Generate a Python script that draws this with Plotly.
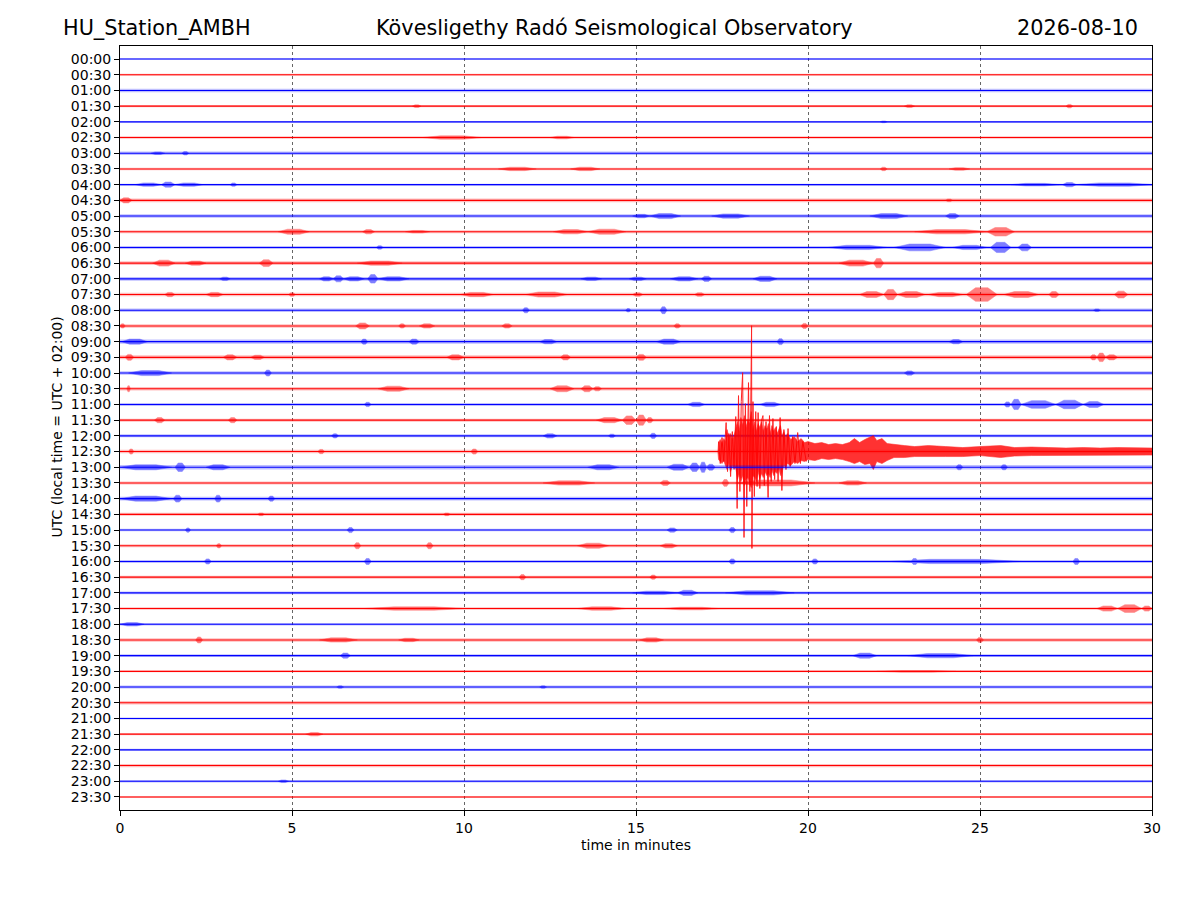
import plotly.graph_objects as go

# half-hour rows of the helicorder, top to bottom
ROW_LABELS = [
    "00:00", "00:30", "01:00", "01:30", "02:00", "02:30", "03:00", "03:30",
    "04:00", "04:30", "05:00", "05:30", "06:00", "06:30", "07:00", "07:30",
    "08:00", "08:30", "09:00", "09:30", "10:00", "10:30", "11:00", "11:30",
    "12:00", "12:30", "13:00", "13:30", "14:00", "14:30", "15:00", "15:30",
    "16:00", "16:30", "17:00", "17:30", "18:00", "18:30", "19:00", "19:30",
    "20:00", "20:30", "21:00", "21:30", "22:00", "22:30", "23:00", "23:30",
]

# background noise half-amplitude of each row
ROW_NOISE = [
    0.8, 1.0, 1.8, 1.2, 0.8, 1.2, 1.8, 1.3, 1.0, 1.8, 1.8, 1.5,
    1.5, 1.8, 1.8, 1.8, 1.8, 1.8, 2.2, 2.0, 1.8, 1.8, 1.5, 1.5,
    1.5, 1.8, 2.2, 1.5, 1.8, 1.5, 1.3, 1.5, 1.5, 1.5, 1.3, 1.3,
    1.3, 1.8, 1.3, 0.8, 1.5, 1.8, 1.0, 1.0, 1.0, 1.6, 1.2, 1.0,
]

# wave groups: (row, start minute, end minute, half-amplitude)
BURSTS = [
    (3, 8.5, 8.75, 1.5), (3, 22.8, 23.1, 1.5), (3, 27.5, 27.7, 2),
    (4, 22.1, 22.3, 1),
    (5, 8.8, 10.5, 2), (5, 12.5, 13.2, 1.5),
    (6, 0.9, 1.3, 1.5), (6, 1.8, 2.0, 2),
    (7, 11.0, 12.1, 2), (7, 13.1, 13.95, 2), (7, 22.1, 22.3, 2), (7, 24.1, 24.7, 1.5),
    (8, 0.45, 1.2, 2), (8, 1.2, 1.6, 3), (8, 1.6, 2.4, 2), (8, 3.2, 3.4, 2),
    (8, 25.9, 27.3, 1.5), (8, 27.4, 27.8, 2.5), (8, 27.8, 30.0, 2),
    (9, 0.0, 0.35, 3), (9, 24.0, 24.2, 1.5),
    (10, 14.9, 15.4, 2), (10, 15.4, 16.3, 3), (10, 17.2, 18.3, 2.5),
    (10, 21.8, 22.9, 3), (10, 24.0, 24.4, 3),
    (11, 4.6, 5.5, 3), (11, 7.05, 7.4, 2.5), (11, 8.3, 9.0, 1.5), (11, 12.6, 13.6, 2.5),
    (11, 13.6, 14.7, 3), (11, 23.1, 25.2, 2.5), (11, 25.2, 26.0, 5),
    (12, 7.45, 7.65, 2), (12, 20.6, 22.3, 2.5), (12, 22.5, 24.0, 4), (12, 24.2, 25.2, 2.5),
    (12, 25.3, 25.9, 6), (12, 26.1, 26.5, 4),
    (13, 0.95, 1.6, 3.5), (13, 1.9, 2.5, 2.5), (13, 4.05, 4.45, 4), (13, 6.9, 8.2, 2.5),
    (13, 20.9, 21.9, 3.5), (13, 21.9, 22.2, 5.5),
    (14, 2.9, 3.2, 2), (14, 5.8, 6.2, 2.5), (14, 6.2, 6.5, 3.5), (14, 6.5, 7.1, 2.5),
    (14, 7.2, 7.5, 5), (14, 7.5, 8.4, 2.5), (14, 13.4, 14.0, 2), (14, 14.8, 15.3, 2),
    (14, 16.0, 16.8, 2.5), (14, 16.9, 17.2, 3), (14, 18.4, 19.1, 3),
    (15, 1.3, 1.6, 2.5), (15, 2.5, 3.0, 2.5), (15, 4.9, 5.1, 2), (15, 9.9, 10.85, 2.5),
    (15, 11.8, 13.0, 3), (15, 14.9, 15.2, 2), (15, 16.7, 17.0, 2), (15, 21.5, 22.2, 3.5),
    (15, 22.2, 22.6, 6), (15, 22.6, 23.4, 3.5), (15, 23.5, 24.5, 2.5), (15, 24.6, 25.5, 8),
    (15, 25.7, 26.7, 3.5), (15, 27.0, 27.3, 3.5), (15, 28.9, 29.3, 4),
    (16, 11.7, 11.9, 3), (16, 14.7, 14.85, 2), (16, 15.7, 15.9, 4), (16, 28.3, 28.5, 1.5),
    (17, 0.0, 0.15, 2.5), (17, 6.85, 7.25, 3.5), (17, 8.1, 8.3, 2.5), (17, 8.7, 9.15, 2.5),
    (17, 11.1, 11.4, 2.5), (17, 16.1, 16.3, 2.5), (17, 19.8, 20.0, 3),
    (18, 0.05, 0.8, 3), (18, 7.0, 7.2, 3), (18, 8.4, 8.7, 3), (18, 12.2, 12.7, 2.5),
    (18, 15.6, 16.3, 3), (18, 19.1, 19.3, 3.5), (18, 24.1, 24.5, 2.5),
    (19, 0.15, 0.4, 3.5), (19, 3.0, 3.4, 3), (19, 3.8, 4.2, 2.5), (19, 9.5, 10.0, 3),
    (19, 12.8, 13.1, 3), (19, 15.0, 15.3, 3.5), (19, 28.2, 28.4, 3), (19, 28.4, 28.65, 5),
    (19, 28.65, 29.0, 3),
    (20, 0.25, 1.5, 3), (20, 4.2, 4.4, 3.5), (20, 22.8, 23.1, 2.5),
    (21, 0.2, 0.3, 3.5), (21, 7.5, 8.4, 3), (21, 12.5, 13.2, 3.5), (21, 13.4, 13.75, 3.5),
    (21, 13.75, 14.0, 2.5),
    (22, 7.1, 7.3, 2.5), (22, 16.5, 17.0, 2.5), (22, 18.6, 19.2, 2.5), (22, 25.7, 25.9, 3),
    (22, 25.9, 26.2, 6), (22, 26.2, 27.2, 4.5), (22, 27.2, 28.0, 5), (22, 28.0, 28.6, 3.5),
    (23, 1.0, 1.3, 3), (23, 3.15, 3.4, 3), (23, 13.85, 14.6, 3), (23, 14.6, 15.0, 5),
    (23, 15.0, 15.3, 6), (23, 15.3, 15.5, 3),
    (24, 6.15, 6.35, 2.5), (24, 12.3, 12.7, 2.5), (24, 14.2, 14.4, 2), (24, 15.4, 15.6, 3),
    (25, 0.25, 0.4, 3), (25, 5.75, 5.95, 2.5), (25, 10.2, 10.4, 3),
    (26, 0.0, 1.5, 3), (26, 1.6, 1.9, 5), (26, 2.5, 3.2, 3), (26, 13.6, 14.5, 3),
    (26, 15.9, 16.55, 3.5), (26, 16.55, 16.85, 5), (26, 16.85, 17.05, 6), (26, 17.05, 17.3, 3.5),
    (26, 24.3, 24.5, 3), (26, 25.6, 25.8, 3),
    (27, 12.3, 13.8, 2.5), (27, 15.7, 16.0, 3), (27, 17.5, 17.7, 4), (27, 17.9, 20.2, 3.5),
    (27, 20.9, 21.7, 2.5),
    (28, 0.0, 1.5, 3), (28, 1.55, 1.8, 4), (28, 2.75, 2.95, 4), (28, 4.3, 4.5, 3),
    (29, 4.0, 4.2, 1.5), (29, 9.4, 9.6, 1.5),
    (30, 1.9, 2.05, 2.5), (30, 6.6, 6.8, 3), (30, 15.9, 16.2, 2.5), (30, 17.7, 17.9, 3),
    (31, 2.8, 2.95, 2.5), (31, 6.8, 7.0, 3.5), (31, 8.9, 9.1, 3.5), (31, 13.3, 14.2, 3),
    (31, 15.7, 16.2, 2.5),
    (32, 2.45, 2.65, 3), (32, 7.1, 7.3, 3.5), (32, 17.7, 17.9, 3), (32, 20.1, 20.3, 3),
    (32, 22.4, 26.2, 2.5), (32, 23.0, 23.2, 3.5), (32, 27.7, 27.9, 3.5),
    (33, 11.6, 11.8, 3), (33, 15.4, 15.6, 2.5),
    (34, 14.9, 16.2, 2), (34, 16.2, 16.8, 3), (34, 17.6, 19.6, 2.5),
    (35, 7.1, 10.0, 2), (35, 13.3, 14.7, 2), (35, 15.8, 17.4, 1.5), (35, 28.4, 29.0, 3),
    (35, 29.0, 29.7, 4.5), (35, 29.7, 30.0, 3),
    (36, 0.0, 0.7, 2),
    (37, 2.2, 2.4, 3.5), (37, 5.8, 6.9, 2.5), (37, 8.1, 8.7, 2), (37, 15.1, 15.8, 2.5),
    (37, 24.9, 25.1, 3),
    (38, 6.4, 6.7, 3), (38, 21.3, 22.0, 3), (38, 22.9, 24.8, 2.5),
    (39, 22.0, 24.3, 1),
    (40, 6.3, 6.5, 1.5), (40, 12.2, 12.4, 1.5),
    (43, 5.4, 5.9, 2),
    (46, 4.6, 4.9, 1.5),
]

# the earthquake in the 12:30 row: envelope of the wave train
QUAKE_ROW = 25
QUAKE_ENV_T = [
    17.38, 17.40, 17.45, 17.50, 17.55, 17.60, 17.65, 17.70, 17.75, 17.80,
    17.85, 17.90, 17.95, 18.00, 18.05, 18.10, 18.15, 18.20, 18.25, 18.30,
    18.35, 18.40, 18.45, 18.50, 18.55, 18.60, 18.65, 18.70, 18.75, 18.80,
    18.85, 18.90, 18.95, 19.00, 19.05, 19.10, 19.15, 19.20, 19.25, 19.30,
    19.35, 19.40, 19.50, 19.60, 19.70, 19.80, 19.90, 20.00, 20.20, 20.40,
    20.60, 20.80, 21.00, 21.20, 21.35, 21.50, 21.65, 21.80, 21.90, 22.00,
    22.15, 22.30, 22.50, 22.80, 23.10, 23.50, 24.00, 24.50, 25.00, 25.60,
    26.00, 26.50, 27.00, 27.50, 28.00, 28.50, 29.00, 29.50, 30.00,
]
QUAKE_ENV_UP = [
    0, 9, 12, 8, 13, 10, 22, 14, 18, 12,
    16, 22, 30, 20, 34, 26, 36, 24, 32, 28,
    40, 22, 30, 20, 28, 24, 30, 20, 26, 22,
    28, 18, 26, 20, 24, 18, 22, 26, 16, 20,
    14, 18, 12, 15, 10, 13, 9, 10, 8, 9,
    7, 8, 7, 9, 13, 9, 12, 14, 16, 11,
    13, 8, 7, 6, 5, 6, 5, 4, 5, 6,
    4, 4.5, 4, 3.5, 4, 3.5, 4, 3.5, 3.5,
]
QUAKE_ENV_DN = [
    0, 8, 10, 12, 9, 14, 18, 12, 20, 14,
    18, 16, 28, 22, 30, 24, 34, 28, 26, 32,
    36, 24, 26, 30, 20, 28, 22, 26, 20, 24,
    22, 26, 18, 24, 20, 22, 16, 24, 18, 14,
    16, 12, 14, 10, 12, 9, 10, 8, 9, 7,
    8, 7, 8, 10, 12, 10, 13, 12, 18, 10,
    12, 9, 6, 6, 5, 5, 5, 5, 4, 6,
    4.5, 4, 4, 4, 3.5, 4, 3.5, 3.5, 3.5,
]
# the largest swings, up positive
QUAKE_SPIKE_T = [17.40, 17.45, 17.50, 17.55, 17.62, 17.66, 17.70, 17.75, 17.80, 17.85, 17.90,
                 17.94, 17.98, 18.02, 18.06, 18.10, 18.14, 18.18, 18.22, 18.27, 18.31, 18.36,
                 18.37, 18.40, 18.44, 18.48, 18.52, 18.55, 18.60, 18.64, 18.69, 18.73, 18.78,
                 18.84, 18.88, 18.93, 18.98, 19.03, 19.08, 19.13, 19.19, 19.24, 19.30, 19.36,
                 19.42, 19.48, 19.55, 19.62, 19.70, 19.78, 19.85, 19.95]
QUAKE_SPIKE_A = [10, -12, 14, -10, 29, -20, 18, -25, 20, -15, 35, -57, 56, -40, 50, 79, -86,
                 48, -55, 69, -40, 126, -97, 50, -45, 40, -35, 39, -37, 30, 36, -34, 30, -46,
                 36, -30, 33, -28, 25, -30, 34, -39, 22, -18, 23, -15, 15, -12, 19, -12, 10, -10]

X_TICKS = [0, 5, 10, 15, 20, 25, 30]

AMP_SCALE = 1 / 15.72  # amplitude units per row spacing
FONT = "DejaVu Sans"
BLUE = "#0000ff"
RED = "#ff0000"


def row_color(k):
    return BLUE if k % 2 == 0 else RED


fig = go.Figure()


def add_row(k):
    col = row_color(k)
    n = ROW_NOISE[k] * AMP_SCALE
    fig.add_trace(go.Scatter(
        x=[0, 30, 30, 0, 0], y=[k - n, k - n, k + n, k + n, k - n],
        mode="lines", fill="toself", fillcolor=col, opacity=0.25,
        line=dict(width=0, color=col), hoverinfo="skip", showlegend=False,
    ))
    fig.add_trace(go.Scatter(
        x=[0, 30], y=[k, k], mode="lines", line=dict(color=col, width=1.1),
        hoverinfo="skip", showlegend=False,
    ))
    xs, ys = [], []
    for row, t0, t1, amp in BURSTS:
        if row != k:
            continue
        a = amp * AMP_SCALE * 0.85
        r = 0.3 * (t1 - t0)
        xs += [t0, t0 + r, t1 - r, t1, t1 - r, t0 + r, t0, None]
        ys += [k, k - a, k - a, k, k + a, k + a, k, None]
    if xs:
        fig.add_trace(go.Scatter(
            x=xs, y=ys, mode="lines", fill="toself", fillcolor=col, opacity=0.5,
            line=dict(width=0.5, color=col), hoverinfo="skip", showlegend=False,
        ))


def add_quake():
    k = QUAKE_ROW
    xs = QUAKE_ENV_T + QUAKE_ENV_T[::-1]
    ys = [k - u * AMP_SCALE for u in QUAKE_ENV_UP] + [k + d * AMP_SCALE for d in QUAKE_ENV_DN[::-1]]
    fig.add_trace(go.Scatter(
        x=xs, y=ys, mode="lines", fill="toself", fillcolor=RED, opacity=0.8,
        line=dict(width=0.6, color=RED), hoverinfo="skip", showlegend=False,
    ))
    fig.add_trace(go.Scatter(
        x=QUAKE_SPIKE_T, y=[k - a * AMP_SCALE for a in QUAKE_SPIKE_A],
        mode="lines", line=dict(color=RED, width=1), opacity=0.85,
        hoverinfo="skip", showlegend=False,
    ))


for k in range(len(ROW_LABELS)):
    add_row(k)
    if k == QUAKE_ROW:
        add_quake()

fig.update_layout(
    width=1200, height=900,
    margin=dict(l=112, r=56, t=38, b=98),
    paper_bgcolor="white", plot_bgcolor="white",
    font=dict(family=FONT, size=14, color="black"),
    showlegend=False,
    xaxis=dict(
        range=[0, 30], tickvals=X_TICKS, ticks="outside", ticklen=5, tickcolor="black",
        showline=True, linecolor="black", linewidth=1, mirror=True,
        showgrid=True, gridcolor="#666666", griddash="dot", gridwidth=0.6, zeroline=False,
    ),
    yaxis=dict(
        range=[len(ROW_LABELS) - 0.17, -0.83],
        tickvals=list(range(len(ROW_LABELS))), ticktext=ROW_LABELS,
        ticks="outside", ticklen=5, tickcolor="black",
        showline=True, linecolor="black", linewidth=1, mirror=True,
        showgrid=False, zeroline=False,
    ),
    annotations=[
        dict(text="HU_Station_AMBH", x=-0.0572, y=1.0235, xref="paper", yref="paper",
             xanchor="left", yanchor="middle", showarrow=False, font=dict(size=20.8)),
        dict(text="Kövesligethy Radó Seismological Observatory", x=0.4787, y=1.0235,
             xref="paper", yref="paper", xanchor="center", yanchor="middle",
             showarrow=False, font=dict(size=20.8)),
        dict(text="2026-08-10", x=0.9884, y=1.0235, xref="paper", yref="paper",
             xanchor="right", yanchor="middle", showarrow=False, font=dict(size=20.8)),
        dict(text="time in minutes", x=0.5, y=-0.0458, xref="paper", yref="paper",
             xanchor="center", yanchor="middle", showarrow=False, font=dict(size=14)),
        dict(text="UTC (local time = UTC + 02:00)", x=-0.061, y=0.5007, xref="paper",
             yref="paper", xanchor="center", yanchor="middle", textangle=-90,
             showarrow=False, font=dict(size=14)),
    ],
)

fig.write_html("out.html")
